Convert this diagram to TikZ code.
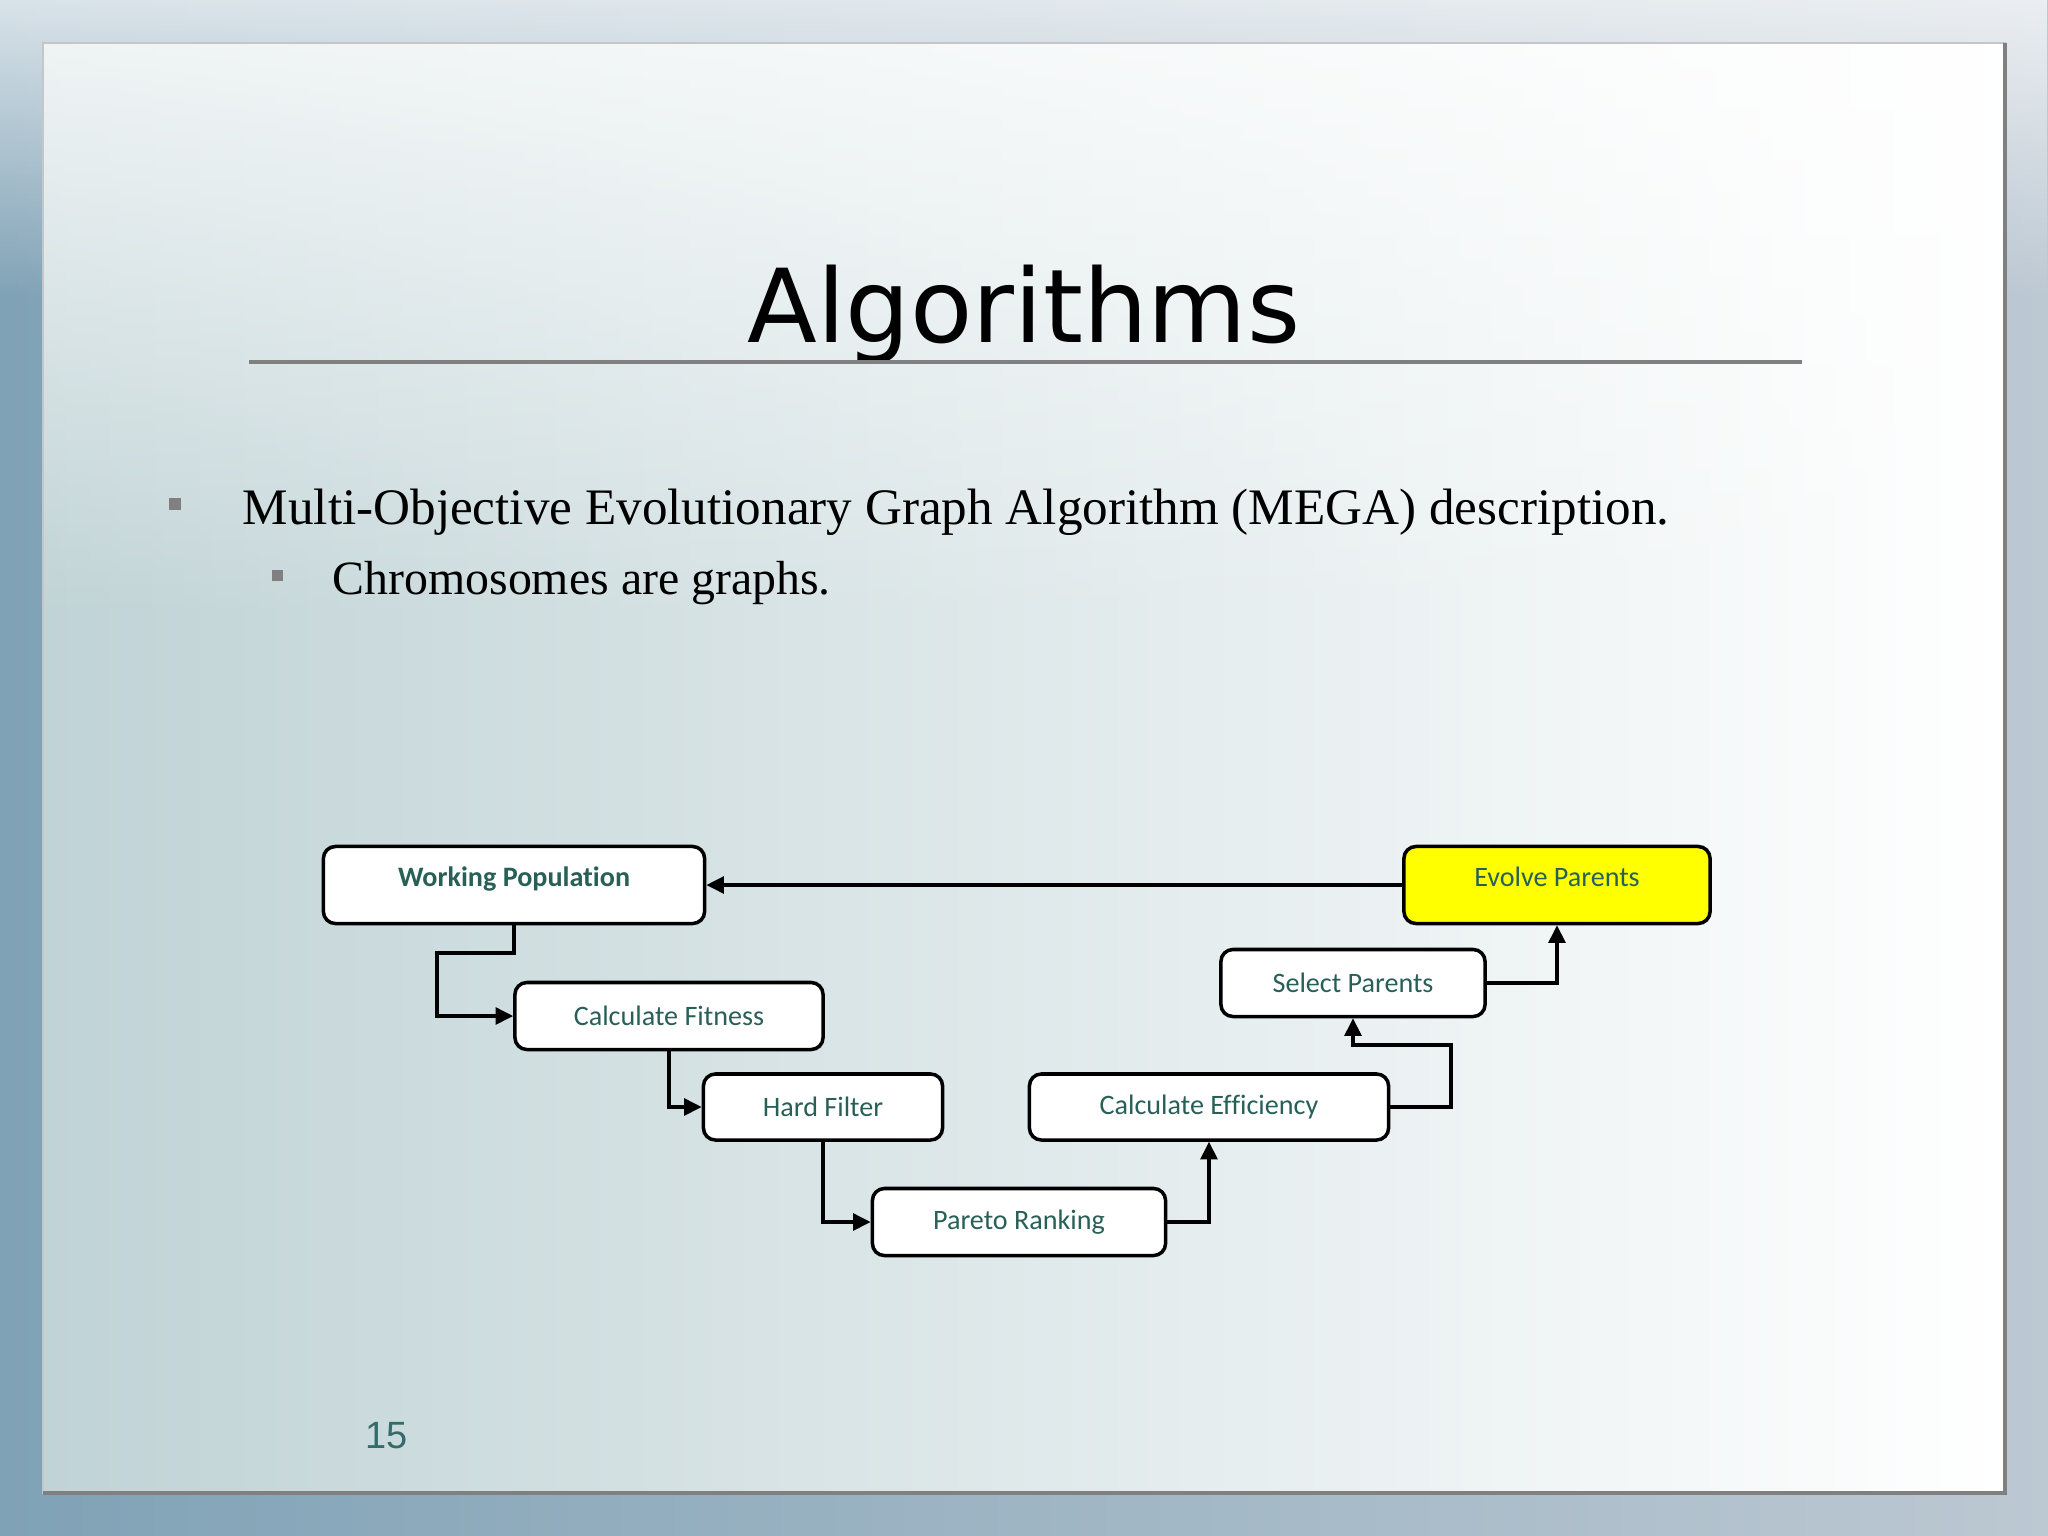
\documentclass[tikz,border=0pt]{standalone}
\usepackage{fontspec}
\setmainfont{Liberation Serif}
\newfontfamily\boxfont[Ligatures=NoCommon]{Carlito}
\newfontfamily\headfont{DejaVu Sans}
\newfontfamily\numfont{Liberation Sans}
\usetikzlibrary{arrows.meta,fadings}
\definecolor{boxtext}{RGB}{40,96,88}
\definecolor{evolve}{RGB}{255,255,0}
\definecolor{rulegray}{RGB}{128,128,128}
\definecolor{pagenum}{RGB}{52,108,108}
\definecolor{outerbg}{RGB}{128,162,182}
\definecolor{outerlight}{RGB}{188,200,210}
\definecolor{panelleft}{RGB}{192,211,214}
\definecolor{panelmid}{RGB}{226,235,237}
\tikzfading[name=fadedown, top color=transparent!0, bottom color=transparent!100]

\begin{document}
\begin{tikzpicture}[x=0.01cm, y=-0.01cm,
  stage/.style={draw=black, line width=1pt, rounded corners=1.2mm, fill=white,
                text=boxtext, inner sep=0pt,
                font=\boxfont\fontsize{8}{10}\selectfont},
  flow/.style={-{Triangle[length=5pt,width=4.8pt]}, line width=0.9pt}]
% slide background
\shade[left color=outerbg, right color=outerlight] (0,0) rectangle (2048,1536);
\fill[white, opacity=0.7, path fading=fadedown] (0,0) rectangle (2048,300);
\shade[left color=panelleft, middle color=panelmid, right color=white]
  (43,43) rectangle (2005,1493);
\fill[white, opacity=0.75, path fading=fadedown] (43,43) rectangle (2005,620);
\draw[rulegray!45, line width=0.8pt] (43,43) rectangle (2005,1493);
\draw[rulegray, line width=1.4pt] (2005,43) -- (2005,1493) -- (43,1493);

% title and bullets
\node[anchor=base, font=\headfont\fontsize{29}{34}\selectfont] (title) at (1024,342) {Algorithms};
\draw[rulegray, line width=1.1pt] (249,362) -- (1802,362);
\fill[rulegray] (169,498) rectangle (181,510);
\node[anchor=base west, inner sep=0pt, font=\fontsize{14.55}{18}\selectfont] (item1) at (242,524)
  {Multi-Objective Evolutionary Graph Algorithm (MEGA) description.};
\fill[rulegray] (272,570) rectangle (283,581);
\node[anchor=base west, inner sep=0pt, font=\fontsize{13.6}{16}\selectfont] (item2) at (332,594)
  {Chromosomes are graphs.};
\node[anchor=base west, inner sep=0pt, text=pagenum, font=\numfont\fontsize{10.8}{13}\selectfont] (page) at (365,1448) {15};

% stages
\node[stage, minimum width=3.81cm, minimum height=0.77cm, text depth=0.16cm,
      font=\boxfont\bfseries\fontsize{8}{10}\selectfont] (wp) at (514,885) {Working Population};
\node[stage, minimum width=3.08cm, minimum height=0.67cm] (cf) at (669,1016) {Calculate Fitness};
\node[stage, minimum width=2.39cm, minimum height=0.66cm] (hf) at (823,1107) {Hard Filter};
\node[stage, minimum width=2.93cm, minimum height=0.67cm] (pr) at (1019,1222) {Pareto Ranking};
\node[stage, minimum width=3.59cm, minimum height=0.66cm] (ce) at (1209,1107) {Calculate Efficiency};
\node[stage, minimum width=2.64cm, minimum height=0.67cm] (sp) at (1353,983) {Select Parents};
\node[stage, fill=evolve, minimum width=3.06cm, minimum height=0.77cm, text depth=0.16cm] (ep) at (1557,885) {Evolve Parents};

% connectors
\coordinate (j1) at (437,953);
\coordinate (j2) at (1451,1045);
\draw[flow] (wp.south) |- (j1) |- (cf.west);
\draw[flow] (cf.south) |- (hf.west);
\draw[flow] (hf.south) |- (pr.west);
\draw[flow] (pr.east) -| (ce.south);
\draw[flow] (ce.east) -| (j2) -| (sp.south);
\draw[flow] (sp.east) -| (ep.south);
\draw[flow] (ep.west) -- (wp.east);
\end{tikzpicture}
\end{document}
